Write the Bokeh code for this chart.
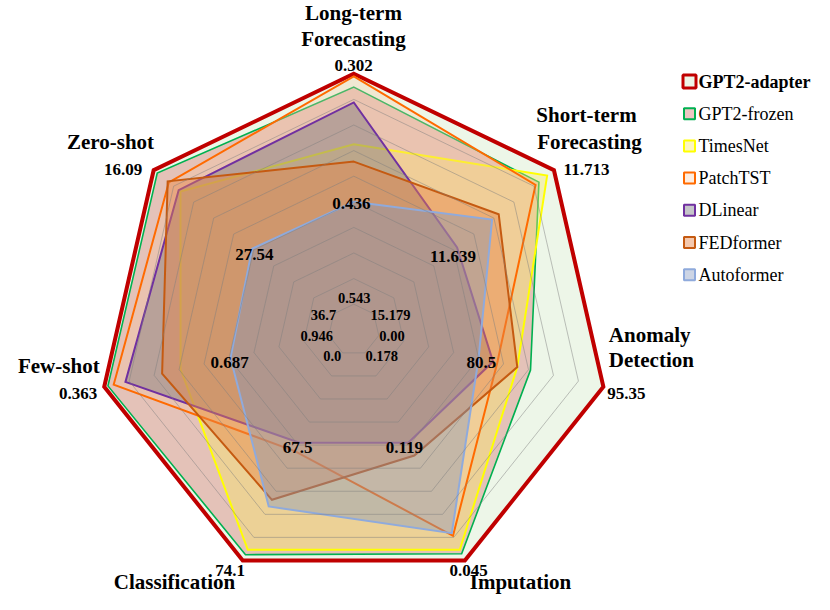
import numpy as np
from bokeh.plotting import figure
from bokeh.models import Range1d
from bokeh.core.properties import value
from bokeh.embed import file_html
from bokeh.resources import INLINE

# ---------------- data ----------------
axis_titles = [["Long-term", "Forecasting"], ["Short-term", "Forecasting"],
               ["Anomaly", "Detection"], ["Imputation"], ["Classification"],
               ["Few-shot"], ["Zero-shot"]]
outer_labels = ["0.302", "11.713", "95.35", "0.045", "74.1", "0.363", "16.09"]
mid_labels = ["0.436", "11.639", "80.5", "0.119", "67.5", "0.687", "27.54"]
inner_labels = ["0.543", "15.179", "0.00", "0.178", "0.0", "0.946", "36.7"]

models = ["GPT2-adapter", "GPT2-frozen", "TimesNet", "PatchTST", "DLinear", "FEDformer", "Autoformer"]
# normalised score on each axis (order as axis_titles)
gpt2_adapter = [1.0, 1.0, 1.0, 1.0, 1.0, 1.0, 1.0]
gpt2_frozen = [0.948, 0.925, 0.708, 0.971, 0.975, 0.985, 0.982]
timesnet = [0.725, 0.966, 0.655, 0.954, 0.954, 0.694, 0.866]
patchtst = [0.99, 0.908, 0.575, 0.893, 0.527, 0.962, 0.924]
dlinear = [0.888, 0.516, 0.558, 0.49, 0.49, 0.915, 0.875]
fedformer = [0.657, 0.724, 0.655, 0.545, 0.737, 0.768, 0.93]
autoformer = [0.50, 0.691, 0.50, 0.882, 0.766, 0.494, 0.508]
series = [gpt2_adapter, gpt2_frozen, timesnet, patchtst, dlinear, fedformer, autoformer]
ring_levels = [0.1, 0.2, 0.3, 0.4, 0.5, 0.6, 0.7, 0.8, 0.9]

# ---------------- style ----------------
line_colors = ["#c00000", "#00b050", "#ffff00", "#ff6a00", "#7030a0", "#c55a11", "#8faadc"]
fill_colors = ["#c5e0b4", "#dc8d88", "#f8e864", "#fac8a0", "#6e6e78", "#e6864a", "#8296be"]
fill_alphas = [0.3, 0.5, 0.4, 0.3, 0.4, 0.45, 0.4]
line_widths = [4, 1.6, 2, 2, 2, 2, 2]

DY = -4                            # vertical shift so that all texts fit
CX, CY, S = 353.3, 333.3 + DY, 256.0   # centre and radius in canvas pixels
W, H = 814, 594
FONT = value("'Liberation Serif', 'Times New Roman', serif")


def px(X, Y):
    return (X - CX) / S, (CY - Y) / S


n = len(axis_titles)
theta = np.pi / 2 - np.arange(n) * 2 * np.pi / n


def poly(vals):
    v = np.asarray(vals, dtype=float)
    return list(v * np.cos(theta)), list(v * np.sin(theta))


p = figure(width=W, height=H, output_backend="svg", toolbar_location=None,
           x_range=Range1d(-CX / S, (W - CX) / S),
           y_range=Range1d((CY - H) / S, CY / S),
           min_border=0, outline_line_color=None)
p.axis.visible = False
p.grid.visible = False
p.background_fill_color = "white"

for i, vals in enumerate(series):
    xs, ys = poly(vals)
    p.patch(xs, ys, fill_color=fill_colors[i], fill_alpha=fill_alphas[i],
            line_color=line_colors[i], line_width=line_widths[i], line_join="miter")

rx, ry = [], []
for lv in ring_levels:
    xs, ys = poly([lv] * n)
    rx.append(xs)
    ry.append(ys)
p.patches(rx, ry, fill_color=None, line_color="#7f7f7f", line_alpha=0.6, line_width=0.8)

# ---------------- labels (canvas pixel positions) ----------------
title_pos = [[(353, 16.5, "center"), (353, 42.7, "center")],
             [(586, 118.3, "center"), (589, 145, "center")],
             [(608.3, 338.3, "left"), (608.3, 363.3, "left")],
             [(520, 585.5, "center")],
             [(174, 585.5, "center")],
             [(58.3, 369.3, "center")],
             [(110, 145.7, "center")]]
outer_pos = [(353, 69, "center"), (586, 172.7, "center"), (606.7, 397.3, "left"),
             (468, 574, "center"), (229.7, 574, "center"), (77.5, 397.3, "center"),
             (122.5, 172.7, "center")]
mid_pos = [(350.8, 207.3), (452.5, 260), (480.8, 365.7), (403.8, 451),
           (297.2, 450.7), (229.2, 365.7), (253.8, 258.3)]
inner_pos = [(353.7, 301.7), (390, 318.3), (391.5, 339.3), (381.2, 359.3),
             (331.7, 359.3), (316.3, 339.3), (323, 318.3)]


def put(txt, X, Y, size, align="center", style="bold", color="black"):
    x, y = px(X, Y + DY)
    p.text([x], [y], text=[txt], text_font=FONT, text_font_size=size,
           text_font_style=style, text_align=align, text_baseline="middle",
           text_color=color)


for k in range(n):
    for line, (X, Y, al) in zip(axis_titles[k], title_pos[k]):
        put(line, X, Y, "21px", al)
    X, Y, al = outer_pos[k]
    put(outer_labels[k], X, Y, "17px", al)
    put(mid_labels[k], *mid_pos[k], "17px")
    put(inner_labels[k], *inner_pos[k], "14.5px")

# ---------------- legend ----------------
leg_y0, leg_dy = 85, 32.2
for i, name in enumerate(models):
    Y = leg_y0 + i * leg_dy
    x, y = px(689, Y + DY)
    sz = 13 if i == 0 else 11
    p.rect([x], [y], width=sz, height=sz, width_units="screen", height_units="screen",
           fill_color=fill_colors[i], fill_alpha=fill_alphas[i],
           line_color=line_colors[i], line_width=3 if i == 0 else 2)
    put(name, 698, Y, "18px", "left", "bold" if i == 0 else "normal")

open("out.html", "w").write(file_html(p, INLINE))
